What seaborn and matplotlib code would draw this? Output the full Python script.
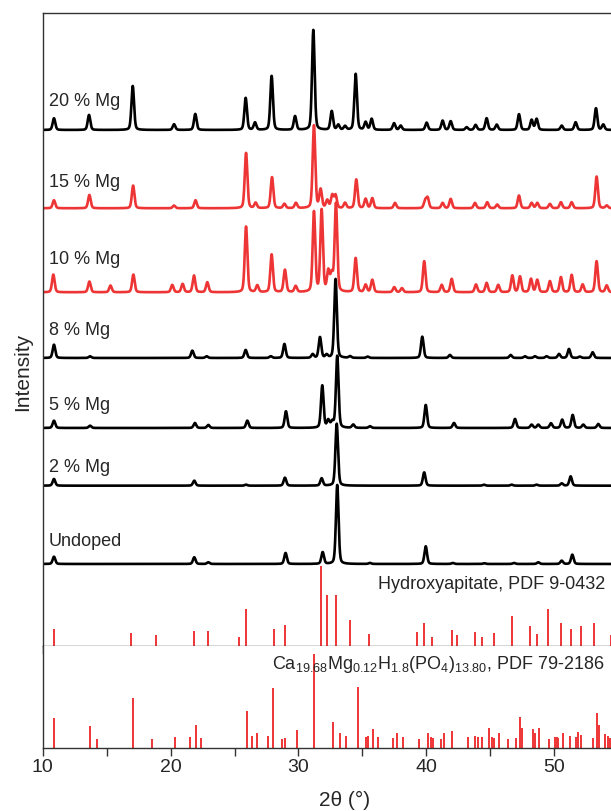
import numpy as np
import pandas as pd
import seaborn as sns
import matplotlib.pyplot as plt
from matplotlib.ticker import MultipleLocator

red = "#ee3535"

# XRD patterns: peak position (2theta) and peak height (px)
samples = ["20 % Mg", "15 % Mg", "10 % Mg", "8 % Mg", "5 % Mg", "2 % Mg", "Undoped"]
baselines = [515.7, 437.4, 353.4, 287.7, 217.7, 160.0, 81.7]
line_colors = ["black", red, red, "black", "black", "black", "black"]

pos_20 = [10.88, 13.62, 17.04, 20.27, 21.93, 25.87, 26.6, 27.9, 29.73, 31.16, 32.6, 33.11, 33.64,
          34.47, 35.25, 35.72, 37.47, 37.99, 40.02, 41.27, 41.9, 43.15, 43.85, 44.71, 45.5, 47.24,
          48.23, 48.62, 50.58, 51.67, 53.26, 53.83]
amp_20 = [11.7, 15, 44, 5.7, 16, 32, 7.3, 54, 13.7, 100, 18.7, 5, 3.7,
          56, 7.7, 11, 6.7, 4.3, 7.3, 9.3, 8.7, 2.7, 5, 11.7, 5.3, 15.7,
          10, 11, 4.3, 7.7, 21.7, 5.3]

pos_15 = [10.88, 13.65, 17.07, 20.27, 21.95, 25.9, 26.65, 27.93, 28.9, 29.8, 31.21, 31.73, 32.25,
          32.64, 32.9, 33.64, 34.52, 35.25, 35.77, 37.55, 39.9, 40.1, 41.27, 41.9, 43.8, 44.76,
          45.54, 47.24, 48.23, 48.67, 49.66, 50.52, 51.36, 53.31, 54.1]
amp_15 = [8, 13.3, 22.7, 2.7, 8, 55.3, 5.3, 31, 4.3, 5.3, 82.7, 18.3, 7.7,
          12.7, 12.7, 5.3, 28.7, 9.3, 10, 5.3, 7.3, 10, 5.3, 9.3, 5.3, 6,
          3.7, 12.7, 5.3, 5.3, 4.3, 6, 6, 31.7, 2.7]

pos_10 = [10.83, 13.65, 15.3, 17.09, 20.13, 20.94, 21.83, 22.87, 25.9, 26.78, 27.9, 28.94, 29.78,
          31.21, 31.81, 32.33, 32.6, 32.93, 34.47, 35.25, 35.77, 37.49, 38.09, 39.83, 41.2, 41.98,
          43.88, 44.71, 45.62, 46.72, 47.32, 48.18, 48.67, 49.66, 50.52, 51.36, 52.22, 53.31, 54.1]
amp_10 = [17.7, 10.7, 6.7, 17.7, 7.3, 8.3, 16.7, 10, 65.7, 6.7, 37.7, 22.3, 6,
          80, 81.7, 20, 16.7, 88.3, 34, 7.3, 12.3, 5, 4, 31, 7.3, 13.3,
          7.7, 9.3, 7.3, 16.7, 15.7, 13.3, 12.3, 11, 15, 17.3, 7.7, 31, 6.7]

pos_8 = [10.88, 13.7, 21.7, 22.82, 25.87, 27.83, 28.9, 31.11, 31.68, 32.2, 32.9, 34.03, 35.41,
         39.68, 41.84, 46.59, 47.71, 48.49, 49.4, 50.37, 51.15, 52.0, 53.0]
amp_8 = [13.3, 1.7, 7.3, 1.7, 8, 1.7, 14, 3.7, 20.7, 3, 79, 1.7, 1.3,
         21.3, 3, 3, 1.7, 1.7, 1.7, 4, 9, 1.3, 5.7]

pos_5 = [10.88, 13.7, 21.9, 22.95, 26.0, 29.02, 31.86, 32.33, 32.64, 33.03, 34.28, 35.59, 39.95,
         42.16, 46.93, 48.23, 48.75, 49.74, 50.62, 51.44, 52.27, 53.44]
amp_5 = [7.3, 2.3, 5, 3, 7.3, 16.7, 42.3, 7.3, 5.7, 72, 3.3, 1.7, 23,
         5, 9, 3.3, 3.3, 4.7, 8.3, 13, 3.3, 4]

pos_2 = [10.88, 21.85, 25.9, 28.94, 31.81, 32.99, 39.83, 44.5, 46.67, 48.62, 50.58, 51.28]
amp_2 = [6.7, 5, 1, 8, 7.3, 62, 13.3, 1, 1, 1, 2.3, 9.3]

pos_0 = [10.88, 21.85, 22.95, 28.99, 31.89, 33.03, 35.59, 39.95, 42.06, 44.53, 46.85, 48.75,
         50.58, 51.41]
amp_0 = [7.3, 6.7, 1.7, 11, 11.7, 79, 1, 17.7, 1, 0.7, 1, 1.7, 3.3, 9.3]

# reference stick patterns
ha_pos = [10.88, 16.88, 18.83, 21.83, 22.9, 25.37, 25.9, 28.11, 28.97, 31.76, 32.2, 32.91, 34.03,
          35.51, 39.24, 39.83, 40.46, 42.03, 42.37, 43.8, 44.37, 45.31, 46.72, 48.12, 48.62,
          49.48, 50.52, 51.3, 52.09, 53.13, 54.41]
ha_int = [16.3, 12.3, 10.3, 15, 14.7, 8.3, 36.7, 16.3, 20.3, 80, 50.7, 51, 25.3,
          11.7, 13.3, 22.3, 8.7, 15.3, 10.3, 13.3, 9, 12.3, 29.3, 19.3, 12,
          36.3, 22.3, 16.3, 19.3, 22.3, 10.7]

mg_pos = [10.91, 13.7, 14.27, 17.09, 18.57, 20.34, 21.52, 21.99, 22.38, 25.95, 26.39, 26.73, 27.62,
          28.0, 28.73, 28.94, 29.86, 31.24, 32.67, 33.24, 33.71, 34.63, 35.25, 35.41, 35.85, 36.19,
          37.41, 37.68, 38.15, 39.45, 40.15, 40.36, 40.54, 41.14, 41.4, 41.98, 43.28, 43.8, 44.06,
          44.32, 44.9, 45.15, 45.31, 45.68, 46.36, 46.98, 47.32, 47.5, 48.31, 48.49, 48.8, 49.61,
          50.06, 50.19, 50.31, 50.7, 51.23, 51.7, 51.88, 52.06, 53.05, 53.36, 53.52, 53.96, 54.17,
          54.35]
mg_int = [29.7, 21.7, 9, 50, 9, 10.7, 10.7, 23, 9.7, 37, 12, 15.3, 12,
          59.7, 9, 9.7, 18.3, 94, 25.7, 14.7, 12, 61, 11.3, 12, 18.7, 11.3,
          10, 14.7, 11.3, 9, 14.7, 10.7, 10, 9, 15.3, 17.3, 10.7, 12, 10.7,
          11.3, 19.7, 11.3, 10, 14.7, 9, 10, 30.7, 20, 18.7, 14.7, 19.7, 9,
          10.7, 10.7, 10, 15.3, 12, 11.3, 16.3, 13.3, 10, 35, 23, 14, 12.3,
          10]

peak_lists = {
    "20 % Mg": (pos_20, amp_20), "15 % Mg": (pos_15, amp_15), "10 % Mg": (pos_10, amp_10),
    "8 % Mg": (pos_8, amp_8), "5 % Mg": (pos_5, amp_5), "2 % Mg": (pos_2, amp_2),
    "Undoped": (pos_0, amp_0),
}


def profile(x, c, w=0.24):
    u = (x - c) / w
    return 0.7 * np.exp(-4 * np.log(2) * u ** 2) + 0.3 / (1 + 4 * u ** 2)


two_theta = np.linspace(10, 57.25, 5000)
frames = []
for name, base in zip(samples, baselines):
    p, a = peak_lists[name]
    y = np.full_like(two_theta, base)
    for c, h in zip(p, a):
        y += h * profile(two_theta, c)
    frames.append(pd.DataFrame({"two_theta": two_theta, "intensity": y, "sample": name}))
df = pd.concat(frames, ignore_index=True)

sns.set_style("ticks")
plt.rcParams["font.family"] = ["Liberation Sans", "DejaVu Sans"]
plt.rcParams["mathtext.default"] = "regular"

fig = plt.figure(figsize=(6.11, 8.12), dpi=100)
ax = fig.add_axes([0.0699, 0.2036, 0.989, 0.7792])
ax2 = fig.add_axes([0.0699, 0.0776, 0.989, 0.1260])

sns.lineplot(data=df, x="two_theta", y="intensity", hue="sample", hue_order=samples,
             palette=dict(zip(samples, line_colors)), estimator=None, sort=False,
             linewidth=1.9, legend=False, ax=ax)
ax.vlines(ha_pos, 0, ha_int, color=red, linewidth=1.4)
ax2.vlines(mg_pos, 0, mg_int, color=red, linewidth=1.4)

label_y = [544.7, 463.7, 386.7, 315.7, 240.7, 178.7, 105.0]
for name, ly in zip(samples, label_y):
    ax.text(10.5, ly, name, fontsize=13, va="center", ha="left")
ax.text(53.96, 62.4, "Hydroxyapitate, PDF 9-0432", fontsize=13, va="center", ha="right")
ax2.text(53.96, 84, r"Ca$_{19.68}$Mg$_{0.12}$H$_{1.8}$(PO$_4$)$_{13.80}$, PDF 79-2186",
         fontsize=13, va="center", ha="right")

for a in (ax, ax2):
    a.set_xlim(10, 57.25)
    a.set_yticks([])
    a.set_xlabel("")
    a.set_ylabel("")
    a.xaxis.set_major_locator(MultipleLocator(10))
    a.xaxis.set_minor_locator(MultipleLocator(5))
    a.tick_params(axis="x", which="both", direction="out", length=5.5, width=1.0,
                  color="#333333", labelsize=14, pad=1.5)
    a.spines["right"].set_visible(False)
    for s in a.spines.values():
        s.set_color("#333333")
        s.set_linewidth(1.0)

ax.set_ylim(0, 632.7)
ax.tick_params(axis="x", labelbottom=False)
ax2.set_ylim(0, 102.3)
ax2.spines["top"].set_visible(False)

fig.text(23 / 611, 1 - 372 / 812, "Intensity", rotation=90, fontsize=15, ha="center", va="center")
fig.text(345 / 611, 1 - 800 / 812, "2θ (°)", fontsize=15, ha="center", va="center")

fig.savefig("out.png", dpi=100)
